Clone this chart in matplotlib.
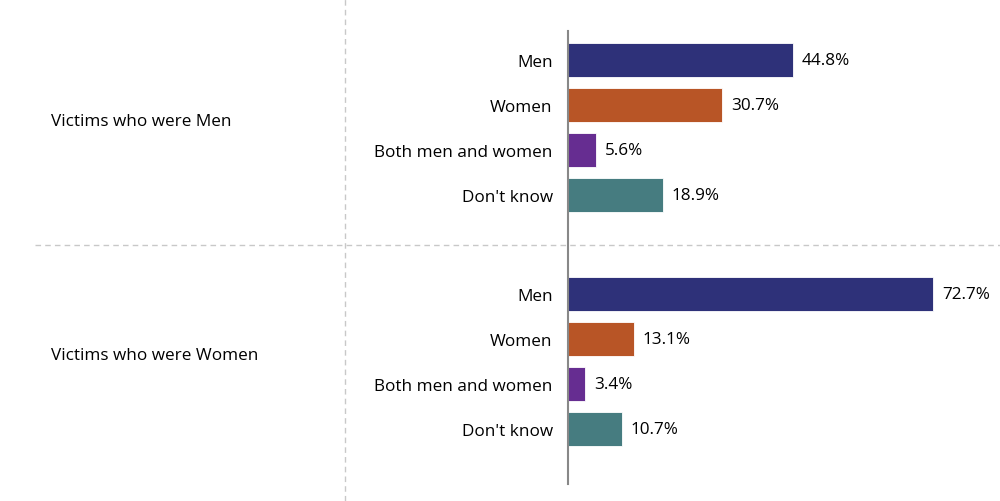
import matplotlib.pyplot as plt
import matplotlib.transforms as mtransforms
from matplotlib.lines import Line2D

plt.rcParams['font.family'] = ['Open Sans', 'DejaVu Sans']

groups = ["Victims who were Men", "Victims who were Women"]
categories = ["Men", "Women", "Both men and women", "Don't know"]
men_victims = [44.8, 30.7, 5.6, 18.9]
women_victims = [72.7, 13.1, 3.4, 10.7]
colors = ["#2e3179", "#b85526", "#662d91", "#467c80"]

group_offset = 5.2
fs = 12.3
fig = plt.figure(figsize=(10, 5.02), dpi=100)
# axis spans from the baseline to the right edge
ax = fig.add_axes([0.568, 1 - 485 / 502, 0.432, (485 - 32) / 502])
ax.patch.set_visible(False)

ypos = []
labels = []
for g, values in enumerate([men_victims, women_victims]):
    for i, (cat, val) in enumerate(zip(categories, values)):
        y = g * group_offset + i
        ax.barh(y, val, height=0.75, color=colors[i], edgecolor='white', linewidth=0.6)
        ax.text(val + 1.8, y, f"{val}%", va='center', ha='left', fontsize=fs)
        ypos.append(y)
        labels.append(cat)

ax.set_xlim(0, 432 / 5.02)
ax.set_ylim(9.42, -0.644)
ax.set_yticks(ypos)
ax.set_yticklabels(labels, fontsize=fs)
ax.tick_params(axis='y', length=0, pad=11)
ax.set_xticks([])
for s in ['top', 'right', 'bottom']:
    ax.spines[s].set_visible(False)
ax.spines['left'].set_color('#888888')
ax.spines['left'].set_linewidth(1.5)

trans = mtransforms.blended_transform_factory(fig.transFigure, ax.transData)
for g, name in enumerate(groups):
    ax.text(0.051, g * group_offset + 1.35, name, transform=trans,
            va='center', ha='left', fontsize=fs)

# dashed separators
divider = (3 + group_offset) / 2
fig.add_artist(Line2D([0.035, 1.0], [divider, divider], transform=trans,
                      color='#c8c8c8', linestyle=(0, (4, 3)), linewidth=1, zorder=0))
fig.add_artist(Line2D([0.345, 0.345], [0, 1], transform=fig.transFigure,
                      color='#c8c8c8', linestyle=(0, (4, 3)), linewidth=1, zorder=0))

fig.savefig('out.png', dpi=100, facecolor='white')
